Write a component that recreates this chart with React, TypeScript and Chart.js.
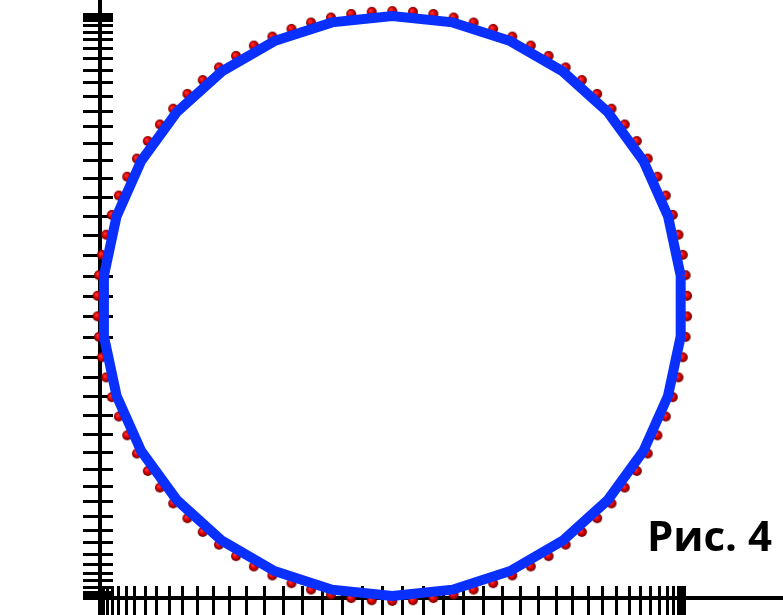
import React, { useEffect, useRef } from "react";
import { Chart, registerables } from "chart.js";

Chart.register(...registerables);

// Tick values along both axes (cosine-spaced)
const X_TICKS = [
  1, 0.9976, 0.9903, 0.9781, 0.9613, 0.9397, 0.9135, 0.8829, 0.848, 0.809, 0.766, 0.7193, 0.6691, 0.6157, 0.5592, 0.5,
  0.4384, 0.3746, 0.309, 0.2419, 0.1736, 0.1045, 0.0349, -0.0349, -0.1045, -0.1736, -0.2419, -0.309, -0.3746, -0.4384,
  -0.5, -0.5592, -0.6157, -0.6691, -0.7193, -0.766, -0.809, -0.848, -0.8829, -0.9135, -0.9397, -0.9613, -0.9781, -0.9903,
  -0.9976, -1,
];
const Y_TICKS = [
  1, 0.9976, 0.9903, 0.9781, 0.9613, 0.9397, 0.9135, 0.8829, 0.848, 0.809, 0.766, 0.7193, 0.6691, 0.6157, 0.5592, 0.5,
  0.4384, 0.3746, 0.309, 0.2419, 0.1736, 0.1045, 0.0349, -0.0349, -0.1045, -0.1736, -0.2419, -0.309, -0.3746, -0.4384,
  -0.5, -0.5592, -0.6157, -0.6691, -0.7193, -0.766, -0.809, -0.848, -0.8829, -0.9135, -0.9397, -0.9613, -0.9781, -0.9903,
  -0.9976, -1,
];

// Red points (90 samples on the circle)
const RED_X = [
  1.0094, 1.0045, 0.9947, 0.98, 0.9606, 0.9365, 0.9078, 0.8747, 0.8373, 0.7959, 0.7506, 0.7016, 0.6492, 0.5937, 0.5352,
  0.4742, 0.4108, 0.3454, 0.2784, 0.21, 0.1406, 0.0705,
  0,
  -0.0705, -0.1406, -0.21, -0.2784, -0.3454, -0.4108, -0.4742, -0.5352, -0.5937, -0.6492, -0.7016, -0.7506, -0.7959,
  -0.8373, -0.8747, -0.9078, -0.9365, -0.9606, -0.98, -0.9947, -1.0045, -1.0094,
  -1.0094, -1.0045, -0.9947, -0.98, -0.9606, -0.9365, -0.9078, -0.8747, -0.8373, -0.7959, -0.7506, -0.7016, -0.6492,
  -0.5937, -0.5352, -0.4742, -0.4108, -0.3454, -0.2784, -0.21, -0.1406, -0.0705,
  0,
  0.0705, 0.1406, 0.21, 0.2784, 0.3454, 0.4108, 0.4742, 0.5352, 0.5937, 0.6492, 0.7016, 0.7506, 0.7959, 0.8373, 0.8747,
  0.9078, 0.9365, 0.9606, 0.98, 0.9947, 1.0045, 1.0094,
];
const RED_Y = [
  0.0352, 0.1056, 0.1754, 0.2443, 0.3121, 0.3784, 0.4428, 0.505, 0.5648, 0.6218, 0.6758, 0.7265, 0.7737, 0.8171, 0.8565,
  0.8918, 0.9227, 0.9491, 0.9709, 0.9879, 1.0002, 1.0075,
  1.01,
  1.0075, 1.0002, 0.9879, 0.9709, 0.9491, 0.9227, 0.8918, 0.8565, 0.8171, 0.7737, 0.7265, 0.6758, 0.6218, 0.5648, 0.505,
  0.4428, 0.3784, 0.3121, 0.2443, 0.1754, 0.1056, 0.0352,
  -0.0352, -0.1056, -0.1754, -0.2443, -0.3121, -0.3784, -0.4428, -0.505, -0.5648, -0.6218, -0.6758, -0.7265, -0.7737,
  -0.8171, -0.8565, -0.8918, -0.9227, -0.9491, -0.9709, -0.9879, -1.0002, -1.0075,
  -1.01,
  -1.0075, -1.0002, -0.9879, -0.9709, -0.9491, -0.9227, -0.8918, -0.8565, -0.8171, -0.7737, -0.7265, -0.6758, -0.6218,
  -0.5648, -0.505, -0.4428, -0.3784, -0.3121, -0.2443, -0.1754, -0.1056, -0.0352,
];

// Blue polygon (30 vertices, closed)
const BLUE_X = [
  0.9876, 0.9444, 0.86, 0.7379, 0.5837, 0.4039, 0.2065, 0, -0.2065, -0.4039, -0.5837, -0.7379, -0.86, -0.9444, -0.9876,
  -0.9876, -0.9444, -0.86, -0.7379, -0.5837, -0.4039, -0.2065, 0, 0.2065, 0.4039, 0.5837, 0.7379, 0.86, 0.9444, 0.9876,
  0.9876,
];
const BLUE_Y = [
  0.1038, 0.3069, 0.4965, 0.6644, 0.8034, 0.9072, 0.9713, 0.993, 0.9713, 0.9072, 0.8034, 0.6644, 0.4965, 0.3069, 0.1038,
  -0.1038, -0.3069, -0.4965, -0.6644, -0.8034, -0.9072, -0.9713, -0.993, -0.9713, -0.9072, -0.8034, -0.6644, -0.4965,
  -0.3069, -0.1038, 0.1038,
];

const CAPTION = "Рис. 4";

function makeSphere(r: number): HTMLCanvasElement {
  const c = document.createElement("canvas");
  const s = r * 2 + 2;
  c.width = s;
  c.height = s;
  const g = c.getContext("2d")!;
  const cx = s / 2;
  const cy = s / 2;
  const grad = g.createRadialGradient(cx - 1.5, cy - 1.5, 0.3, cx, cy, r);
  grad.addColorStop(0, "#ff3a3a");
  grad.addColorStop(0.5, "#e00000");
  grad.addColorStop(1, "#660000");
  g.fillStyle = grad;
  g.beginPath();
  g.arc(cx, cy, r, 0, Math.PI * 2);
  g.fill();
  return c;
}

const crossAxes = {
  id: "crossAxes",
  beforeDatasetsDraw(chart: any) {
    const { ctx, width, height } = chart;
    const x = chart.scales.x;
    const y = chart.scales.y;
    const ax = Math.round(x.getPixelForValue(-1));
    const ay = Math.round(y.getPixelForValue(-1));
    ctx.save();
    ctx.fillStyle = "#000";
    ctx.fillRect(ax - 2, 0, 4, height);
    ctx.fillRect(ax - 2, ay - 2, width - ax + 2, 4);
    for (const v of X_TICKS) {
      const px = Math.round(x.getPixelForValue(v));
      ctx.fillRect(px - 1, ay - 12, 3, 30);
    }
    for (const v of Y_TICKS) {
      const py = Math.round(y.getPixelForValue(v));
      ctx.fillRect(ax - 17, py - 1, 30, 3);
    }
    ctx.restore();
  },
};

export default function App() {
  const ref = useRef<HTMLCanvasElement | null>(null);

  useEffect(() => {
    if (!ref.current) return;
    const sphere = makeSphere(5);
    const chart = new Chart(ref.current, {
      type: "scatter",
      data: {
        datasets: [
          {
            label: "polygon",
            data: BLUE_X.map((v, i) => ({ x: v, y: BLUE_Y[i] })),
            showLine: true,
            borderColor: "#0a30ff",
            backgroundColor: "#0a30ff",
            borderWidth: 10,
            borderJoinStyle: "miter",
            pointRadius: 0,
            tension: 0,
            order: 0,
          },
          {
            label: "points",
            data: RED_X.map((v, i) => ({ x: v, y: RED_Y[i] })),
            showLine: false,
            pointStyle: sphere,
            pointRadius: 5,
            order: 1,
          },
        ],
      },
      options: {
        animation: false,
        responsive: false,
        maintainAspectRatio: false,
        events: [],
        layout: { padding: 0, autoPadding: false },
        plugins: {
          legend: { display: false },
          tooltip: { enabled: false },
          title: { display: false },
        },
        scales: {
          x: { type: "linear", min: -1.3435, max: 1.338, display: false },
          y: { type: "linear", min: -1.058, max: 1.048, display: false },
        },
      },
      plugins: [crossAxes],
    } as any);
    return () => chart.destroy();
  }, []);

  return (
    <div style={{ position: "absolute", left: 0, top: 0, width: 783, height: 615, background: "#fff", overflow: "hidden" }}>
      <canvas ref={ref} width={783} height={615} style={{ display: "block" }} />
      <div
        style={{
          position: "absolute",
          right: 11,
          top: 514,
          fontFamily: '"Open Sans", sans-serif',
          fontWeight: 700,
          fontSize: 42,
          lineHeight: "42px",
          color: "#000",
          whiteSpace: "nowrap",
        }}
      >
        {CAPTION}
      </div>
    </div>
  );
}
